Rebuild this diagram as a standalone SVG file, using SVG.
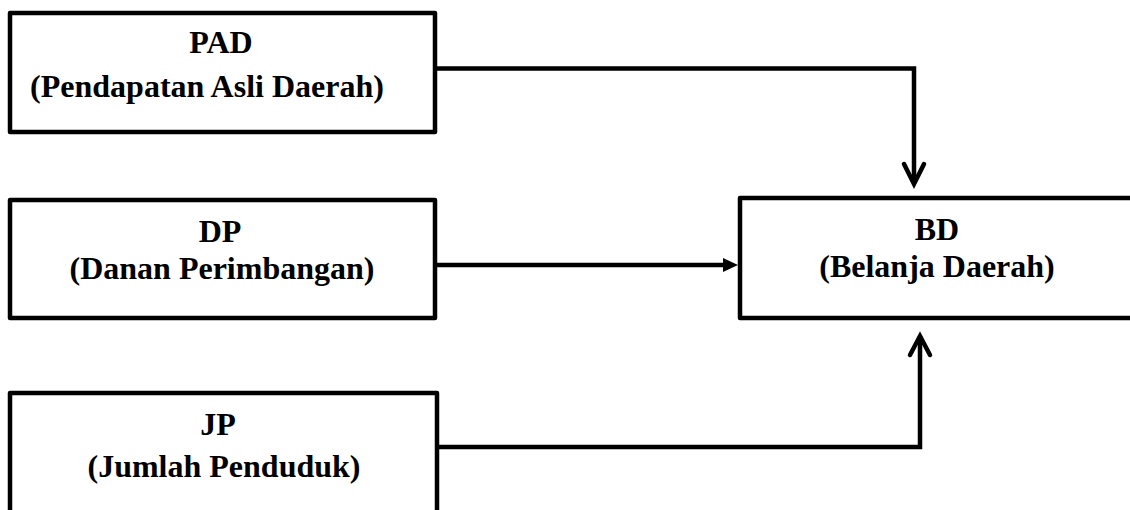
<svg xmlns="http://www.w3.org/2000/svg" width="1130" height="510" viewBox="0 0 1130 510">
<defs>
<style>
.box{fill:#fff;stroke:#000;stroke-width:4.5;stroke-linejoin:round}
.t{font-family:"Liberation Serif","Times New Roman",serif;font-weight:bold;font-size:32px;fill:#000;text-anchor:middle}
.c{fill:none;stroke:#000;stroke-width:4.5;stroke-linejoin:miter}
.chev{fill:none;stroke:#000;stroke-width:4.5;stroke-linecap:round;stroke-linejoin:miter}
</style>
</defs>
<rect width="1130" height="510" fill="#fff"/>
<g id="connectors">
<path class="c" d="M435 68.5 H914 V183"/>
<polyline class="chev" points="904,164 914,184 924,164"/>
<path class="c" d="M435 265 H725"/>
<polygon points="723,258 738,265 723,272" fill="#000"/>
<path class="c" d="M437 447 H920 V337"/>
<polyline class="chev" points="910,355 920,336 930,355"/>
</g>
<g id="node-pad">
<rect class="box" x="10" y="13" width="425" height="119"/>
<text class="t" x="221" y="53">PAD</text>
<text class="t" x="207" y="97">(Pendapatan Asli Daerah)</text>
</g>
<g id="node-dp">
<rect class="box" x="10" y="200" width="425" height="118"/>
<text class="t" x="220" y="242">DP</text>
<text class="t" x="222" y="279">(Danan Perimbangan)</text>
</g>
<g id="node-jp">
<rect class="box" x="10" y="393" width="427" height="140"/>
<text class="t" x="218" y="435">JP</text>
<text class="t" x="224" y="477">(Jumlah Penduduk)</text>
</g>
<g id="node-bd">
<rect class="box" x="740" y="198" width="420" height="120"/>
<text class="t" x="937" y="240">BD</text>
<text class="t" x="937" y="277">(Belanja Daerah)</text>
</g>
</svg>
